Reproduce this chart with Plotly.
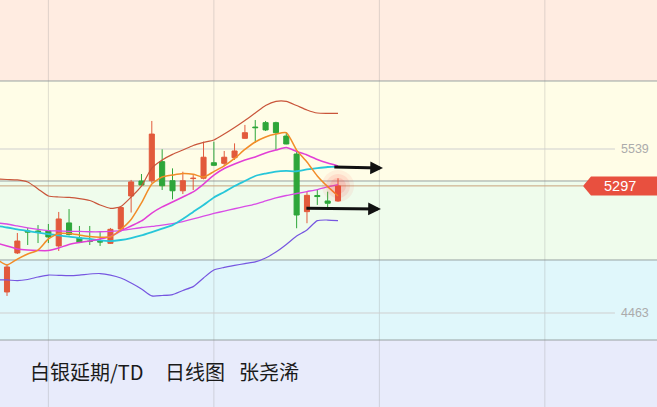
import plotly.graph_objects as go

# ---------------- data ----------------
idx = list(range(0, 33))
opens  = [4601, 4857, 5001, 5001, 5001, 4903, 5054, 4955, 4935, 4933, 4920, 5014, 5231, 5329, 5331, 5456,
          5331, 5265, 5345, 5347, 5449, 5445, 5482, 5609, 5683, 5712, 5712, 5624, 5506, 5128, 5234, 5198, 5198]
highs  = [4785, 4988, 5021, 5040, 5047, 5126, 5145, 5034, 5034, 4994, 5021, 5159, 5336, 5375, 5723, 5537,
          5412, 5390, 5368, 5587, 5587, 5526, 5576, 5697, 5729, 5723, 5718, 5646, 5521, 5259, 5270, 5259, 5347]
lows   = [4575, 4850, 4909, 4922, 4922, 4870, 4972, 4922, 4909, 4903, 4916, 5011, 5122, 5300, 5316, 5270,
          5209, 5244, 5270, 5340, 5427, 5427, 5467, 5607, 5580, 5657, 5532, 5570, 5019, 5052, 5172, 5152, 5193]
closes = [4765, 4935, 4994, 4994, 4962, 5080, 4978, 4926, 4932, 4929, 5012, 5155, 5323, 5303, 5637, 5298,
          5265, 5331, 5347, 5485, 5432, 5485, 5526, 5646, 5679, 5664, 5646, 5572, 5106, 5235, 5227, 5183, 5297]

line_idx = list(range(-1, 33))
boll_upper = [5342, 5339, 5336, 5323, 5277, 5231, 5224, 5221, 5214, 5201, 5172, 5150, 5162, 5224, 5296, 5414,
              5467, 5504, 5532, 5562, 5582, 5598, 5637, 5680, 5726, 5775, 5824, 5851, 5851, 5824, 5795, 5775, 5773, 5773]
boll_mid   = [5034, 5024, 5011, 5001, 4991, 4981, 4972, 4964, 4955, 4949, 4939, 4935, 4942, 4955, 4972, 4994,
              5017, 5040, 5080, 5126, 5172, 5221, 5257, 5296, 5329, 5362, 5378, 5391, 5395, 5393, 5405, 5414, 5421, 5423]
boll_lower = [4680, 4680, 4675, 4683, 4699, 4712, 4710, 4708, 4712, 4719, 4722, 4712, 4693, 4660, 4621, 4575,
              4578, 4584, 4611, 4636, 4693, 4745, 4762, 4775, 4787, 4798, 4824, 4863, 4913, 4968, 5008, 5069, 5073, 5069]
ma5  = [4817, 4778, 4817, 4850, 4876, 4949, 4985, 4985, 4975, 4965, 4960, 4962, 5011, 5077, 5185, 5309,
        5355, 5368, 5378, 5373, 5355, 5391, 5428, 5477, 5536, 5585, 5618, 5637, 5646, 5532, 5454, 5362, 5292, 5231]
ma10 = [4922, 4903, 4883, 4876, 4873, 4873, 4890, 4913, 4926, 4935, 4949, 4965, 5001, 5034, 5067, 5119,
        5159, 5191, 5224, 5257, 5309, 5368, 5411, 5441, 5467, 5487, 5513, 5532, 5549, 5523, 5500, 5470, 5447, 5428]
ma30 = [5054, 5047, 5034, 5021, 5011, 5004, 5001, 4999, 4998, 4996, 4996, 4999, 5004, 5014, 5024, 5031,
        5040, 5050, 5063, 5080, 5099, 5116, 5132, 5147, 5162, 5178, 5198, 5218, 5234, 5247, 5260, 5273, 5290, 5306]

current_price = 5297
price_marks = [5539, 4463]
arrow_levels = [(5421, 5414), (5150, 5145)]
arrow_x = [(31.5, 36.35), (28.8, 36.15)]
grid_idx = [4, 20, 36, 52]
title_parts = ["白银延期/TD", "日线图", "张尧浠"]

# ---------------- figure ----------------
W, H = 657, 407
Y_MIN, Y_MAX = 3846.3, 6516.6
X_MIN, X_MAX = -0.677, 62.84

fig = go.Figure()

fig.add_trace(go.Candlestick(
    x=idx, open=opens, high=highs, low=lows, close=closes,
    increasing=dict(line=dict(color="#E25A3C", width=1), fillcolor="#E25A3C"),
    decreasing=dict(line=dict(color="#2EA63A", width=1), fillcolor="#2EA63A"),
    whiskerwidth=0, showlegend=False, hoverinfo="skip"))

lines = [
    (boll_upper, "#C9553A", 1.2),
    (boll_lower, "#7656E0", 1.2),
    (ma30, "#D84CE6", 1.3),
    (boll_mid, "#27C6D9", 1.8),
    (ma10, "#E23FD6", 1.5),
    (ma5, "#F28C28", 1.5),
]
for vals, col, w in lines:
    fig.add_trace(go.Scatter(x=line_idx, y=vals, mode="lines",
                             line=dict(color=col, width=w, shape="spline", smoothing=0.6),
                             showlegend=False, hoverinfo="skip"))

# glow on last candle
for s, op in [(32, 0.07), (24, 0.10), (16, 0.14)]:
    fig.add_trace(go.Scatter(x=[idx[-1]], y=[closes[-1]], mode="markers",
                             marker=dict(size=s, color="#FF3B3B", opacity=op, line=dict(width=0)),
                             showlegend=False, hoverinfo="skip"))

shapes = []
# background bands (paper fractions)
bands = [(0.801, 1.0, "#FFECE1"), (0.5553, 0.801, "#FFFDE7"), (0.3612, 0.5553, "#EFFCEC"),
         (0.1646, 0.3612, "#E0F7FB"), (0.0, 0.1646, "#E8EBFB")]
for y0, y1, c in bands:
    shapes.append(dict(type="rect", xref="paper", yref="paper", x0=0, x1=1, y0=y0, y1=y1,
                       fillcolor=c, line=dict(width=0), layer="below"))
for yb in [0.801, 0.5553, 0.3612, 0.1646]:
    shapes.append(dict(type="line", xref="paper", yref="paper", x0=0, x1=1, y0=yb, y1=yb,
                       line=dict(color="#98A2A2", width=1), layer="below"))
for gx in grid_idx:
    shapes.append(dict(type="line", xref="x", yref="paper", x0=gx, x1=gx, y0=0, y1=1,
                       line=dict(color="rgba(140,140,140,0.28)", width=1), layer="below"))
for pm in price_marks:
    shapes.append(dict(type="line", xref="paper", yref="y", x0=0, x1=0.936, y0=pm, y1=pm,
                       line=dict(color="#CFCFCF", width=1), layer="below"))
# current price line
shapes.append(dict(type="line", xref="paper", yref="y", x0=0, x1=0.888, y0=current_price, y1=current_price,
                   line=dict(color="#C9A27C", width=1), layer="below"))
# price tag
shapes.append(dict(type="path", xref="paper", yref="y", ysizemode="pixel", yanchor=current_price,
                   path="M 0.8874,0 L 0.8995,9.5 L 1,9.5 L 1,-9.5 L 0.8995,-9.5 Z",
                   fillcolor="#E8503F", line=dict(width=0), layer="above"))

annotations = []
for pm in price_marks:
    annotations.append(dict(x=0.991, xref="paper", y=pm, yref="y", text=str(pm), showarrow=False,
                            xanchor="right", yanchor="middle",
                            font=dict(family="Liberation Sans, Arial", size=12.5, color="#ABABAB")))
annotations.append(dict(x=0.9437, xref="paper", y=current_price, yref="y", text=str(current_price),
                        showarrow=False, xanchor="center", yanchor="middle",
                        font=dict(family="Liberation Sans, Arial", size=14.5, color="#FFFFFF")))
for (ya, yb), (xa, xb) in zip(arrow_levels, arrow_x):
    annotations.append(dict(x=xb, y=yb, xref="x", yref="y", ax=xa, ay=ya, axref="x", ayref="y",
                            text="", showarrow=True, arrowhead=2, arrowsize=0.85, arrowwidth=3,
                            arrowcolor="#111111", standoff=0, startstandoff=0))
title_x = [28, 163, 237]
for t, px in zip(title_parts, title_x):
    annotations.append(dict(x=px / W, xref="paper", y=1 - 371 / H, yref="paper", text=t, showarrow=False,
                            xanchor="left", yanchor="middle",
                            font=dict(family="Noto Sans CJK SC", size=20, color="#1A1A1A")))

fig.update_layout(
    width=W, height=H, margin=dict(l=0, r=0, t=0, b=0),
    paper_bgcolor="#FFFFFF", plot_bgcolor="rgba(0,0,0,0)",
    shapes=shapes, annotations=annotations, showlegend=False,
    xaxis=dict(range=[X_MIN, X_MAX], showgrid=False, zeroline=False, showticklabels=False,
               showline=False, rangeslider=dict(visible=False), fixedrange=True),
    yaxis=dict(range=[Y_MIN, Y_MAX], showgrid=False, zeroline=False, showticklabels=False,
               showline=False, fixedrange=True),
)

fig.write_html("out.html", config={"displayModeBar": False},
               post_script="document.body.style.margin='0';document.body.style.padding='0';"
                           "document.body.style.overflow='hidden';")
